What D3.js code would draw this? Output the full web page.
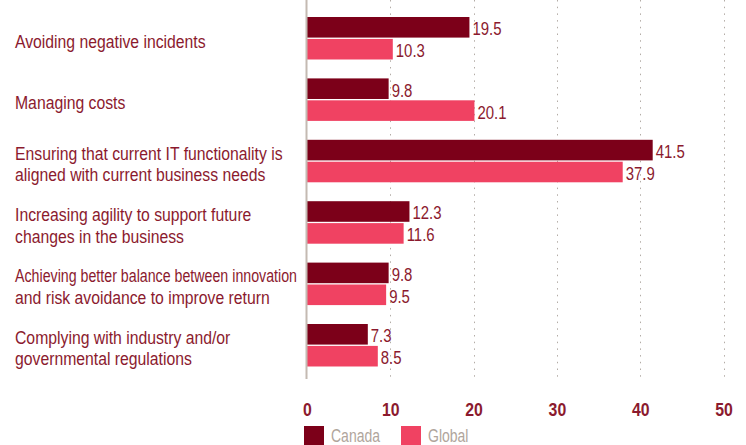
<!DOCTYPE html>
<html>
<head>
<meta charset="utf-8">
<script src="https://cdn.jsdelivr.net/npm/d3@7"></script>
<style>
html, body { margin: 0; padding: 0; background: #fff; }
svg { display: block; }
text { font-family: "Liberation Sans", Arial, sans-serif; }
</style>
</head>
<body>
<svg id="chart" width="746" height="445"></svg>
<script>
const categories = [
  ["Avoiding negative incidents"],
  ["Managing costs"],
  ["Ensuring that current IT functionality is", "aligned with current business needs"],
  ["Increasing agility to support future", "changes in the business"],
  ["Achieving better balance between innovation", "and risk avoidance to improve return"],
  ["Complying with industry and/or", "governmental regulations"]
];
const seriesNames = ["Canada", "Global"];
const canada = [19.5, 9.8, 41.5, 12.3, 9.8, 7.3];
const global = [10.3, 20.1, 37.9, 11.6, 9.5, 8.5];
const xTicks = [0, 10, 20, 30, 40, 50];

const colors = { Canada: "#7c0019", Global: "#f04262" };
const textColor = "#8b1a2e";

// condense a text/tspan horizontally (narrow typeface look), optionally capped to a max width
function condense(sel, factor, maxW) {
  sel.each(function() {
    const len = this.getComputedTextLength();
    let w = len * factor;
    if (maxW && w > maxW) w = maxW;
    d3.select(this).attr("textLength", w).attr("lengthAdjust", "spacingAndGlyphs");
  });
}

const svg = d3.select("#chart");
const catKeys = categories.map(c => c.join(" "));
const data = catKeys.map((k, i) => ({ key: k, lines: categories[i], Canada: canada[i], Global: global[i] }));

const x = d3.scaleLinear().domain([0, 50]).range([307, 723.5]);
const y0 = d3.scaleBand().domain(catKeys).range([0, 383.5]).paddingInner(0.308).paddingOuter(0.277);
const y1 = d3.scaleBand().domain(seriesNames).range([0, y0.bandwidth()]).paddingInner(0.06);

// gridlines
svg.append("g").selectAll("line").data(xTicks.slice(1)).join("line")
  .attr("x1", d => Math.round(x(d)) + 0.5).attr("x2", d => Math.round(x(d)) + 0.5)
  .attr("y1", 0).attr("y2", 378)
  .attr("stroke", "#b3aca6").attr("stroke-width", 1).attr("stroke-dasharray", "1.5,5.2");

// bars
const groups = svg.append("g").selectAll("g").data(data).join("g")
  .attr("transform", d => `translate(0,${y0(d.key)})`);
groups.selectAll("rect").data(d => seriesNames.map(s => ({ s, v: d[s] }))).join("rect")
  .attr("x", x(0)).attr("y", d => y1(d.s))
  .attr("width", d => x(d.v) - x(0)).attr("height", y1.bandwidth())
  .attr("fill", d => colors[d.s]);
const vals = groups.selectAll("text.val").data(d => seriesNames.map(s => ({ s, v: d[s] }))).join("text")
  .attr("class", "val")
  .attr("x", d => x(d.v) + 3).attr("y", d => y1(d.s) + y1.bandwidth() / 2 + 1.5)
  .attr("dy", "0.36em")
  .attr("font-size", 18).attr("fill", textColor)
  .text(d => d.v.toFixed(1));
condense(vals, 0.83);

// axis line
svg.append("line").attr("x1", x(0) - 0.5).attr("x2", x(0) - 0.5).attr("y1", 0).attr("y2", 379)
  .attr("stroke", "#c4bab2").attr("stroke-width", 2);

// category labels
const lh = 21.7;
const labels = svg.append("g").selectAll("text").data(data).join("text")
  .attr("font-size", 17.5).attr("fill", textColor)
  .each(function(d) {
    const t = d3.select(this);
    const cy = y0(d.key) + y0.bandwidth() / 2 + 3;
    const n = d.lines.length;
    d.lines.forEach((ln, i) => {
      t.append("tspan").attr("x", 15)
        .attr("y", cy + (i - (n - 1) / 2) * lh)
        .attr("dy", "0.36em").text(ln);
    });
  });
condense(labels.selectAll("tspan"), 0.9, 282);

// x axis tick labels
const xAxis = d3.axisBottom(x).tickValues(xTicks).tickSize(0).tickPadding(0).tickFormat(d3.format("d"));
const ax = svg.append("g").attr("transform", "translate(0,403)").call(xAxis);
ax.select(".domain").remove();
const tickTexts = ax.selectAll("text").attr("font-size", 18).attr("font-weight", "bold").attr("fill", textColor)
  .attr("font-family", '"Liberation Sans", Arial, sans-serif')
  .attr("dy", "0.72em");
condense(tickTexts, 0.88);

// legend
const legend = svg.append("g").selectAll("g").data(seriesNames).join("g")
  .attr("transform", (d, i) => `translate(${[304, 401][i]},426)`);
legend.append("rect").attr("width", 20).attr("height", 19).attr("fill", d => colors[d]);
const legText = legend.append("text").attr("x", 27).attr("y", 15.5)
  .attr("font-size", 17.5).attr("fill", "#b0a59c").text(d => d);
condense(legText, 0.8);
</script>
</body>
</html>
